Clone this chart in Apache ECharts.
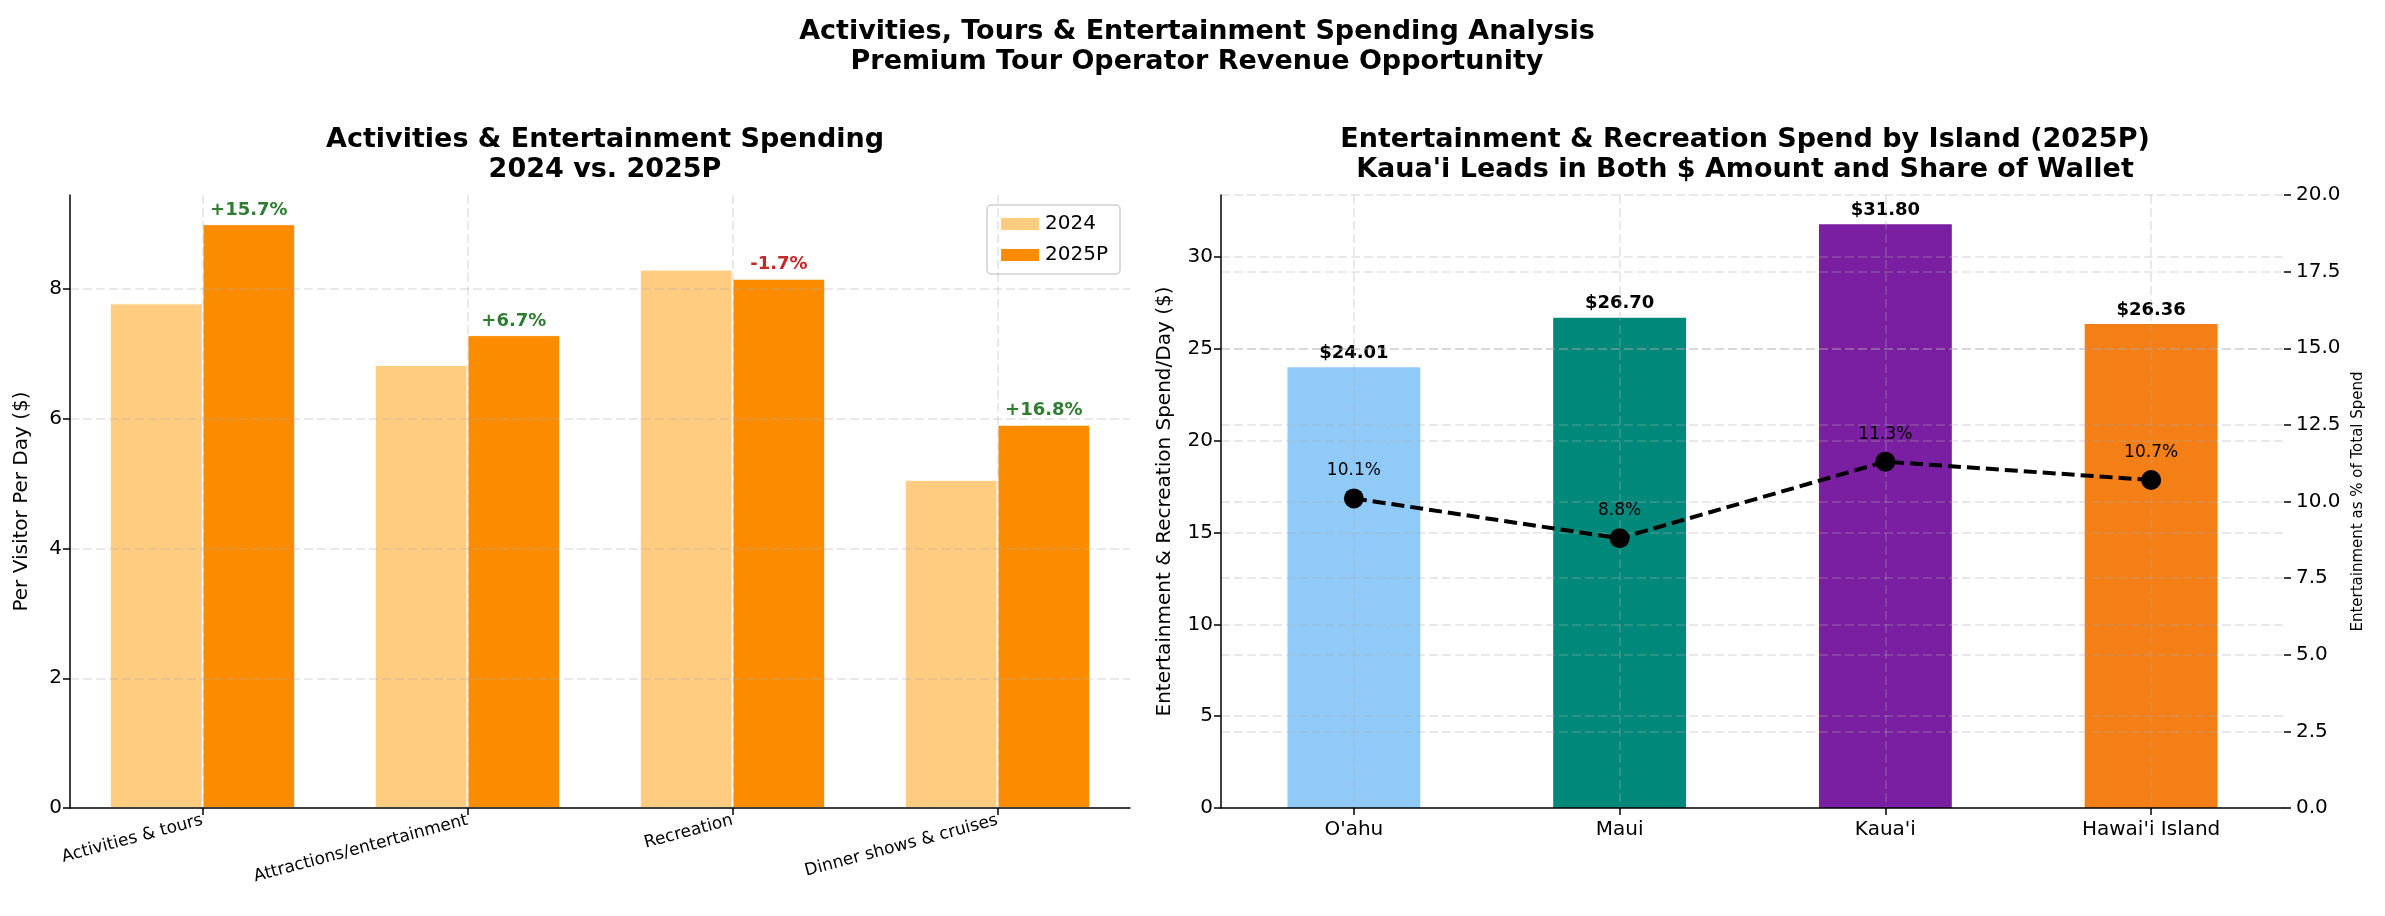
<!DOCTYPE html>
<html>
<head>
<meta charset="utf-8">
<script src="https://cdn.jsdelivr.net/npm/echarts@6/dist/echarts.min.js"></script>
<style>
  html, body { margin: 0; padding: 0; background: #fff; }
  #chart { width: 2385px; height: 916px; }
</style>
</head>
<body>
<div id="chart"></div>
<script>
// left panel data
const categories = ["Activities & tours", "Attractions/entertainment", "Recreation", "Dinner shows & cruises"];
const spend_2024 = [7.78, 6.83, 8.30, 5.06];
const spend_2025 = [9.00, 7.29, 8.16, 5.91];

// right panel data
const islands = ["O'ahu", "Maui", "Kaua'i", "Hawai'i Island"];
const island_spend = [24.01, 26.70, 31.80, 26.36];
const island_share = [10.1, 8.8, 11.3, 10.7];

// colors
const year_colors = ["#FFCC80", "#FB8C00"];
const island_colors = ["#90CAF9", "#00897B", "#7B1FA2", "#F57F17"];

const font = "DejaVu Sans";
const grid_line = { show: true, lineStyle: { color: "rgba(176,176,176,0.35)", width: 1.5, type: [9, 4] } };

const chart = echarts.init(document.getElementById("chart"));

// change labels above the 2025P bars
const change_pct = spend_2025.map((v, i) => ((v - spend_2024[i]) / spend_2024[i]) * 100);

const axis_label = { color: "#000", fontFamily: font, fontSize: 20 };
const axis_line = { show: true, lineStyle: { color: "#000", width: 1.5 } };
const axis_tick = { show: true, length: 7, lineStyle: { color: "#000", width: 1.5 } };
const title_style = { fontFamily: font, fontSize: 27, fontWeight: "bold", color: "#000", lineHeight: 30 };

chart.setOption({
  backgroundColor: "#fff",
  animation: false,
  textStyle: { fontFamily: font },
  title: [
    {
      text: "Activities, Tours & Entertainment Spending Analysis\nPremium Tour Operator Revenue Opportunity",
      left: 1192, top: 12, textAlign: "center",
      textStyle: title_style,
    },
    {
      text: "Activities & Entertainment Spending\n2024 vs. 2025P",
      left: 600, top: 120, textAlign: "center",
      textStyle: title_style,
    },
    {
      text: "Entertainment & Recreation Spend by Island (2025P)\nKaua'i Leads in Both $ Amount and Share of Wallet",
      left: 1740, top: 120, textAlign: "center",
      textStyle: title_style,
    },
  ],
  legend: {
    data: ["2024", "2025P"],
    right: 1265, top: 205,
    orient: "vertical",
    icon: "rect", itemWidth: 40, itemHeight: 14, itemGap: 11,
    padding: [9, 12],
    borderColor: "#d0d0d0", borderWidth: 1.5, borderRadius: 4,
    textStyle: { fontFamily: font, fontSize: 20, color: "#000" },
    selectedMode: false,
  },
  grid: [
    { left: 70, right: 1255, top: 195, bottom: 108 },
    { left: 1221, right: 101, top: 195, bottom: 108 },
  ],
  xAxis: [
    {
      type: "category", gridIndex: 0, data: categories, z: 5,
      axisLine: axis_line,
      axisTick: Object.assign({ alignWithLabel: true }, axis_tick),
      axisLabel: Object.assign({}, axis_label, { fontSize: 17, rotate: 15, margin: 12 }),
      splitLine: Object.assign({ alignWithLabel: true }, grid_line),
    },
    {
      type: "category", gridIndex: 1, data: islands, z: 5,
      axisLine: axis_line,
      axisTick: Object.assign({ alignWithLabel: true }, axis_tick),
      axisLabel: Object.assign({}, axis_label, { margin: 12 }),
      splitLine: Object.assign({ alignWithLabel: true }, grid_line),
    },
  ],
  yAxis: [
    {
      type: "value", gridIndex: 0, min: 0, max: 9.45, interval: 2, z: 5,
      name: "Per Visitor Per Day ($)", nameLocation: "middle", nameGap: 38,
      nameTextStyle: { fontFamily: font, fontSize: 20, color: "#000" },
      axisLine: axis_line, axisTick: axis_tick,
      axisLabel: Object.assign({ showMaxLabel: false }, axis_label),
      splitLine: Object.assign({ showMaxLine: false, showMinLine: false }, grid_line),
    },
    {
      type: "value", gridIndex: 1, min: 0, max: 33.39, interval: 5, z: 5,
      name: "Entertainment & Recreation Spend/Day ($)", nameLocation: "middle", nameGap: 46,
      nameTextStyle: { fontFamily: font, fontSize: 20, color: "#000" },
      axisLine: axis_line, axisTick: axis_tick,
      axisLabel: Object.assign({ showMaxLabel: false }, axis_label),
      splitLine: Object.assign({ showMaxLine: false, showMinLine: false }, grid_line),
    },
    {
      type: "value", gridIndex: 1, position: "right", min: 0, max: 20, interval: 2.5, z: 5,
      name: "Entertainment as % of Total Spend", nameLocation: "middle", nameGap: 67,
      nameTextStyle: { fontFamily: font, fontSize: 15, color: "#000" },
      axisLine: { show: false }, axisTick: axis_tick,
      axisLabel: Object.assign({ formatter: (v) => v.toFixed(1), margin: 12 }, axis_label),
      splitLine: Object.assign({ showMinLine: false }, grid_line),
    },
  ],
  series: [
    {
      name: "2024", type: "bar", xAxisIndex: 0, yAxisIndex: 0,
      data: spend_2024, barWidth: "35%", barGap: "0%",
      itemStyle: { color: year_colors[0], borderColor: "#fff", borderWidth: 1 },
    },
    {
      name: "2025P", type: "bar", xAxisIndex: 0, yAxisIndex: 0,
      data: spend_2025, barWidth: "35%",
      itemStyle: { color: year_colors[1], borderColor: "#fff", borderWidth: 1 },
      label: {
        show: true, position: "top", distance: 5,
        fontFamily: font, fontSize: 18, fontWeight: "bold",
        formatter: (p) => {
          const c = change_pct[p.dataIndex];
          return `{${c >= 0 ? "up" : "down"}|${c >= 0 ? "+" : ""}${c.toFixed(1)}%}`;
        },
        rich: {
          up: { color: "#2E7D32", fontFamily: font, fontSize: 18, fontWeight: "bold" },
          down: { color: "#C62828", fontFamily: font, fontSize: 18, fontWeight: "bold" },
        },
      },
    },
    {
      name: "Spend", type: "bar", xAxisIndex: 1, yAxisIndex: 1,
      barWidth: "50%",
      data: island_spend.map((v, i) => ({ value: v, itemStyle: { color: island_colors[i] } })),
      label: {
        show: true, position: "top", distance: 5,
        fontFamily: font, fontSize: 18, fontWeight: "bold", color: "#000",
        formatter: (p) => "$" + p.value.toFixed(2),
      },
    },
    {
      name: "Share", type: "line", xAxisIndex: 1, yAxisIndex: 2, z: 10,
      data: island_share,
      symbol: "circle", symbolSize: 20,
      itemStyle: { color: "#000" },
      lineStyle: { color: "#000", width: 4, type: [13, 6] },
      label: {
        show: true, position: "top", distance: 9,
        fontFamily: font, fontSize: 17, color: "#000",
        formatter: (p) => p.value.toFixed(1) + "%",
      },
    },
  ],
});

window.addEventListener("resize", chart.resize);
</script>
</body>
</html>
